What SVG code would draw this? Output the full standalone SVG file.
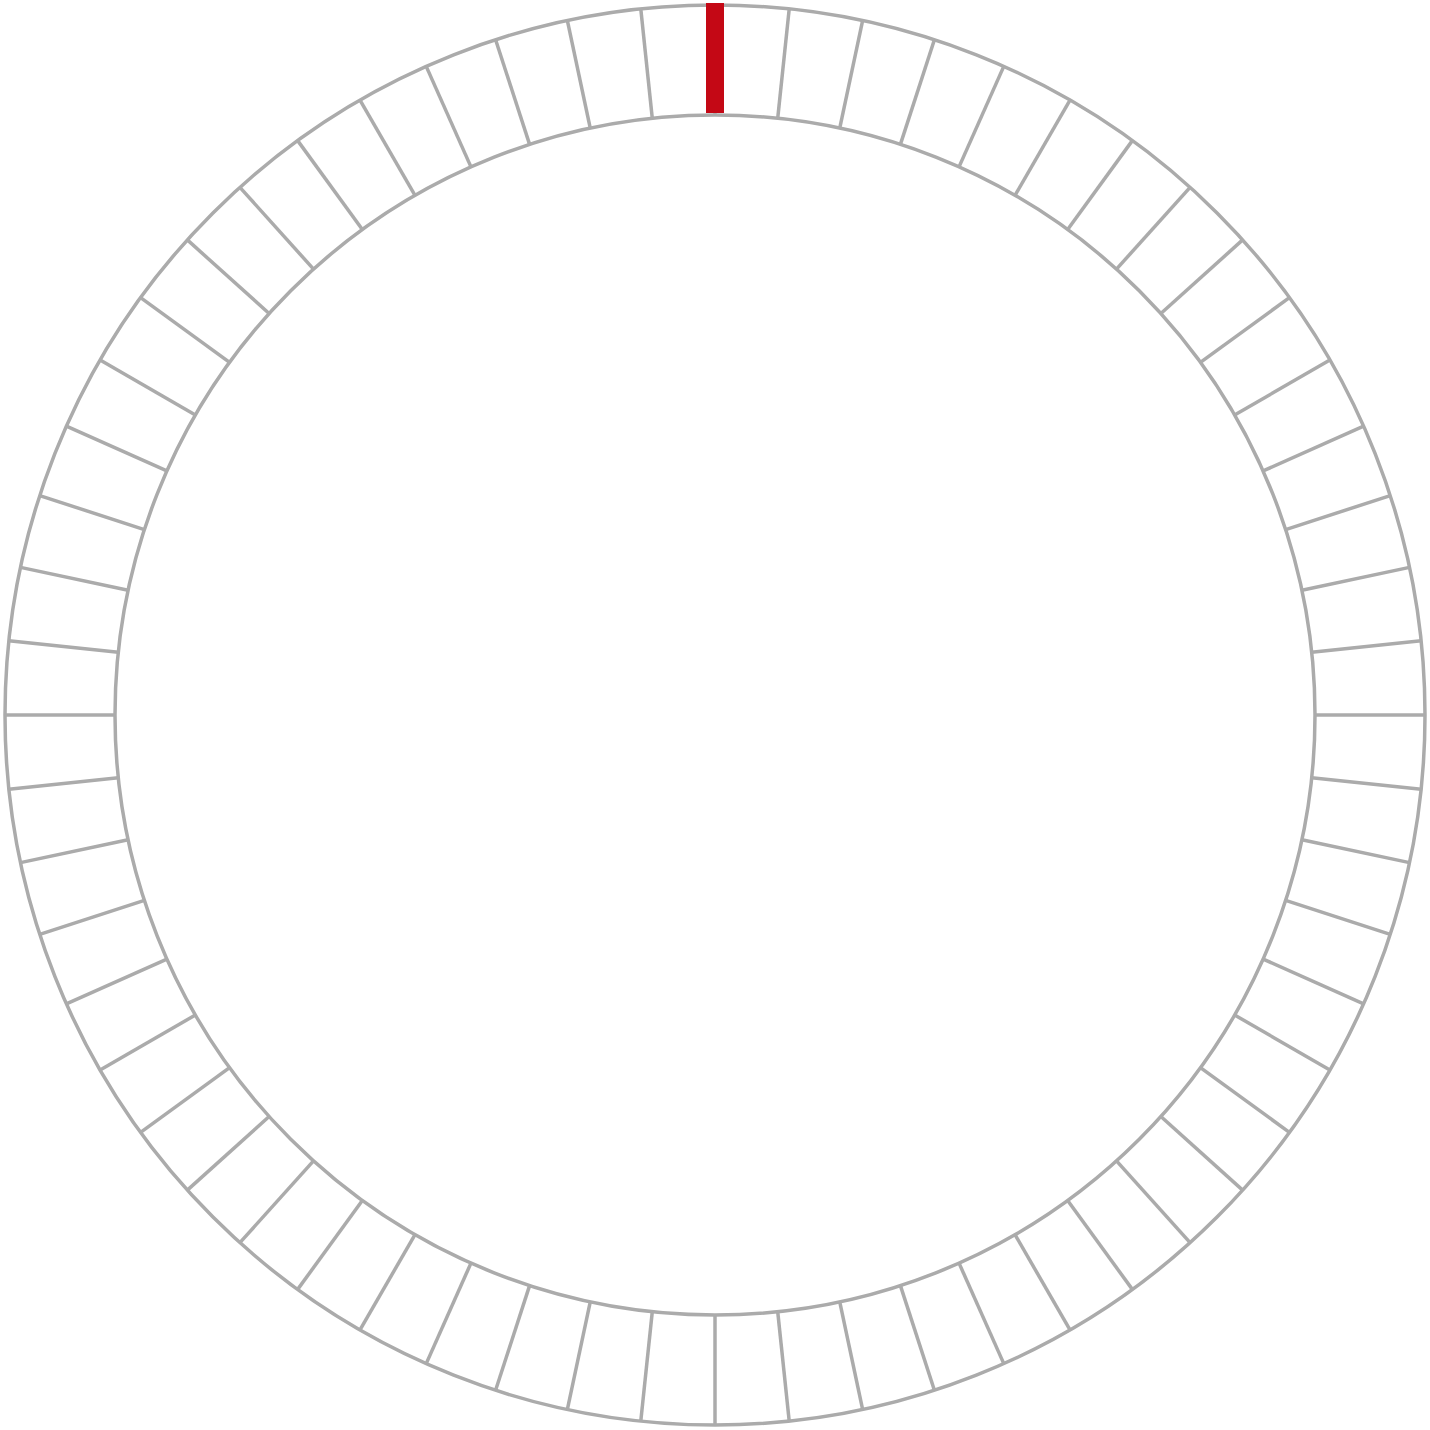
<svg xmlns="http://www.w3.org/2000/svg" width="1430" height="1430" viewBox="0 0 1430 1430">
<style>
.ring{fill:none;stroke:#ababab;stroke-width:3.5}
.tick{stroke:#ababab;stroke-width:3.5}
.mark{stroke:#c40815;stroke-width:18}
</style>
<rect width="1430" height="1430" fill="#fff"/>
<g id="ring">
<circle class="ring" cx="715" cy="715" r="710"/>
<circle class="ring" cx="715" cy="715" r="600"/>
</g>
<g id="ticks">
<line class="tick" x1="715" y1="115" x2="715" y2="5" transform="rotate(0 715 715)"/>
<line class="tick" x1="715" y1="115" x2="715" y2="5" transform="rotate(6 715 715)"/>
<line class="tick" x1="715" y1="115" x2="715" y2="5" transform="rotate(12 715 715)"/>
<line class="tick" x1="715" y1="115" x2="715" y2="5" transform="rotate(18 715 715)"/>
<line class="tick" x1="715" y1="115" x2="715" y2="5" transform="rotate(24 715 715)"/>
<line class="tick" x1="715" y1="115" x2="715" y2="5" transform="rotate(30 715 715)"/>
<line class="tick" x1="715" y1="115" x2="715" y2="5" transform="rotate(36 715 715)"/>
<line class="tick" x1="715" y1="115" x2="715" y2="5" transform="rotate(42 715 715)"/>
<line class="tick" x1="715" y1="115" x2="715" y2="5" transform="rotate(48 715 715)"/>
<line class="tick" x1="715" y1="115" x2="715" y2="5" transform="rotate(54 715 715)"/>
<line class="tick" x1="715" y1="115" x2="715" y2="5" transform="rotate(60 715 715)"/>
<line class="tick" x1="715" y1="115" x2="715" y2="5" transform="rotate(66 715 715)"/>
<line class="tick" x1="715" y1="115" x2="715" y2="5" transform="rotate(72 715 715)"/>
<line class="tick" x1="715" y1="115" x2="715" y2="5" transform="rotate(78 715 715)"/>
<line class="tick" x1="715" y1="115" x2="715" y2="5" transform="rotate(84 715 715)"/>
<line class="tick" x1="715" y1="115" x2="715" y2="5" transform="rotate(90 715 715)"/>
<line class="tick" x1="715" y1="115" x2="715" y2="5" transform="rotate(96 715 715)"/>
<line class="tick" x1="715" y1="115" x2="715" y2="5" transform="rotate(102 715 715)"/>
<line class="tick" x1="715" y1="115" x2="715" y2="5" transform="rotate(108 715 715)"/>
<line class="tick" x1="715" y1="115" x2="715" y2="5" transform="rotate(114 715 715)"/>
<line class="tick" x1="715" y1="115" x2="715" y2="5" transform="rotate(120 715 715)"/>
<line class="tick" x1="715" y1="115" x2="715" y2="5" transform="rotate(126 715 715)"/>
<line class="tick" x1="715" y1="115" x2="715" y2="5" transform="rotate(132 715 715)"/>
<line class="tick" x1="715" y1="115" x2="715" y2="5" transform="rotate(138 715 715)"/>
<line class="tick" x1="715" y1="115" x2="715" y2="5" transform="rotate(144 715 715)"/>
<line class="tick" x1="715" y1="115" x2="715" y2="5" transform="rotate(150 715 715)"/>
<line class="tick" x1="715" y1="115" x2="715" y2="5" transform="rotate(156 715 715)"/>
<line class="tick" x1="715" y1="115" x2="715" y2="5" transform="rotate(162 715 715)"/>
<line class="tick" x1="715" y1="115" x2="715" y2="5" transform="rotate(168 715 715)"/>
<line class="tick" x1="715" y1="115" x2="715" y2="5" transform="rotate(174 715 715)"/>
<line class="tick" x1="715" y1="115" x2="715" y2="5" transform="rotate(180 715 715)"/>
<line class="tick" x1="715" y1="115" x2="715" y2="5" transform="rotate(186 715 715)"/>
<line class="tick" x1="715" y1="115" x2="715" y2="5" transform="rotate(192 715 715)"/>
<line class="tick" x1="715" y1="115" x2="715" y2="5" transform="rotate(198 715 715)"/>
<line class="tick" x1="715" y1="115" x2="715" y2="5" transform="rotate(204 715 715)"/>
<line class="tick" x1="715" y1="115" x2="715" y2="5" transform="rotate(210 715 715)"/>
<line class="tick" x1="715" y1="115" x2="715" y2="5" transform="rotate(216 715 715)"/>
<line class="tick" x1="715" y1="115" x2="715" y2="5" transform="rotate(222 715 715)"/>
<line class="tick" x1="715" y1="115" x2="715" y2="5" transform="rotate(228 715 715)"/>
<line class="tick" x1="715" y1="115" x2="715" y2="5" transform="rotate(234 715 715)"/>
<line class="tick" x1="715" y1="115" x2="715" y2="5" transform="rotate(240 715 715)"/>
<line class="tick" x1="715" y1="115" x2="715" y2="5" transform="rotate(246 715 715)"/>
<line class="tick" x1="715" y1="115" x2="715" y2="5" transform="rotate(252 715 715)"/>
<line class="tick" x1="715" y1="115" x2="715" y2="5" transform="rotate(258 715 715)"/>
<line class="tick" x1="715" y1="115" x2="715" y2="5" transform="rotate(264 715 715)"/>
<line class="tick" x1="715" y1="115" x2="715" y2="5" transform="rotate(270 715 715)"/>
<line class="tick" x1="715" y1="115" x2="715" y2="5" transform="rotate(276 715 715)"/>
<line class="tick" x1="715" y1="115" x2="715" y2="5" transform="rotate(282 715 715)"/>
<line class="tick" x1="715" y1="115" x2="715" y2="5" transform="rotate(288 715 715)"/>
<line class="tick" x1="715" y1="115" x2="715" y2="5" transform="rotate(294 715 715)"/>
<line class="tick" x1="715" y1="115" x2="715" y2="5" transform="rotate(300 715 715)"/>
<line class="tick" x1="715" y1="115" x2="715" y2="5" transform="rotate(306 715 715)"/>
<line class="tick" x1="715" y1="115" x2="715" y2="5" transform="rotate(312 715 715)"/>
<line class="tick" x1="715" y1="115" x2="715" y2="5" transform="rotate(318 715 715)"/>
<line class="tick" x1="715" y1="115" x2="715" y2="5" transform="rotate(324 715 715)"/>
<line class="tick" x1="715" y1="115" x2="715" y2="5" transform="rotate(330 715 715)"/>
<line class="tick" x1="715" y1="115" x2="715" y2="5" transform="rotate(336 715 715)"/>
<line class="tick" x1="715" y1="115" x2="715" y2="5" transform="rotate(342 715 715)"/>
<line class="tick" x1="715" y1="115" x2="715" y2="5" transform="rotate(348 715 715)"/>
<line class="tick" x1="715" y1="115" x2="715" y2="5" transform="rotate(354 715 715)"/>
</g>
<g id="marker">
<line class="mark" x1="715" y1="113" x2="715" y2="3"/>
</g>
</svg>
